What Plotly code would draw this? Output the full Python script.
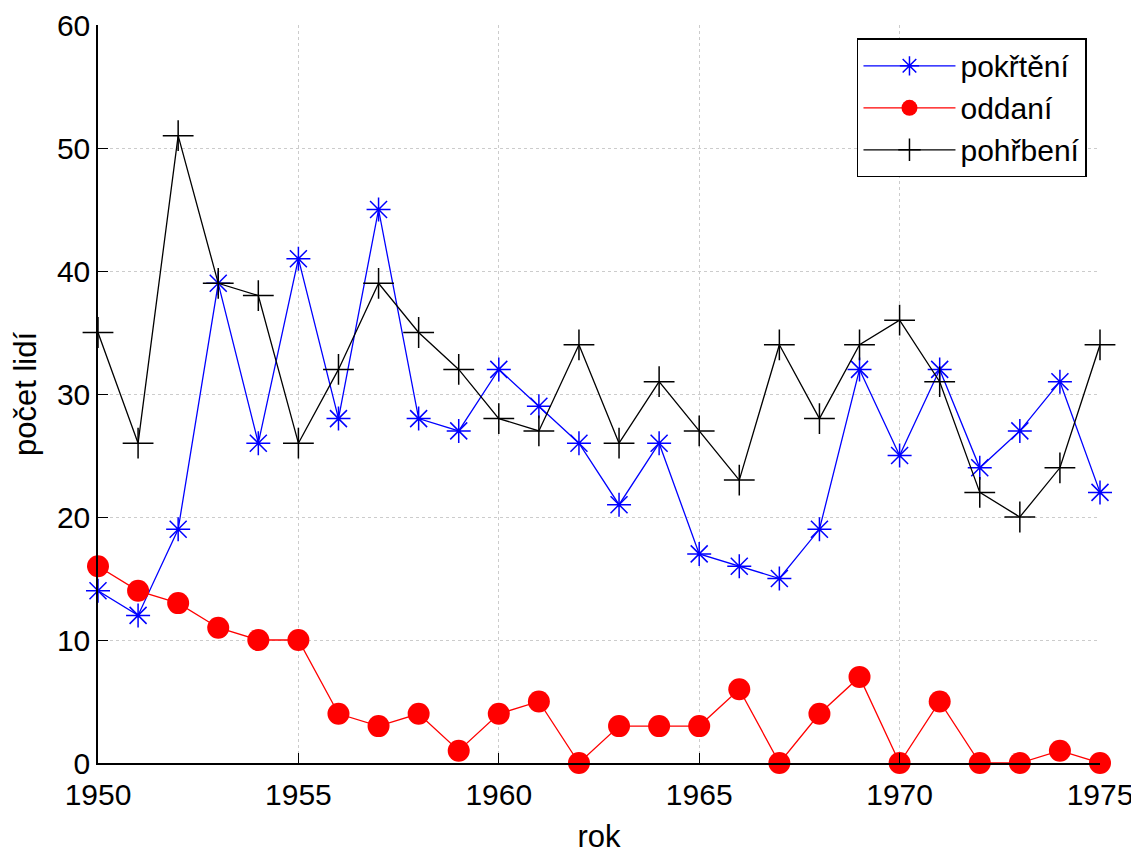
import plotly.graph_objects as go

years = list(range(1950, 1976))
pokrteni = [14, 12, 19, 39, 26, 41, 28, 45, 28, 27, 32, 29, 26, 21, 26, 17, 16, 15, 19, 32, 25, 32, 24, 27, 31, 22]
oddani = [16, 14, 13, 11, 10, 10, 4, 3, 4, 1, 4, 5, 0, 3, 3, 3, 6, 0, 4, 7, 0, 5, 0, 0, 1, 0]
pohrbeni = [35, 26, 51, 39, 38, 26, 32, 39, 35, 32, 28, 27, 34, 26, 31, 27, 23, 34, 28, 34, 36, 31, 22, 20, 24, 34]

x_ticks = [1950, 1955, 1960, 1965, 1970, 1975]
y_ticks = [0, 10, 20, 30, 40, 50, 60]

FONT = "Liberation Sans, Arial, Helvetica, sans-serif"

fig = go.Figure()
fig.add_trace(go.Scatter(
    x=years, y=pokrteni, name="pokřtění", mode="lines+markers",
    line=dict(color="#0000ff", width=1.3),
    marker=dict(symbol="asterisk-open", size=20, color="#0000ff",
                line=dict(color="#0000ff", width=1.5)),
    cliponaxis=False,
))
fig.add_trace(go.Scatter(
    x=years, y=oddani, name="oddaní", mode="lines+markers",
    line=dict(color="#ff0000", width=1.3),
    marker=dict(symbol="circle", size=22, color="#ff0000",
                line=dict(width=0)),
    cliponaxis=False,
))
fig.add_trace(go.Scatter(
    x=years, y=pohrbeni, name="pohřbení", mode="lines+markers",
    line=dict(color="#000000", width=1.3),
    marker=dict(symbol="cross-thin-open", size=22, color="#000000",
                line=dict(color="#000000", width=1.5)),
    cliponaxis=False,
))

axis_common = dict(
    showline=True, linecolor="black", linewidth=1.5,
    ticks="inside", ticklen=10, tickwidth=1.3, tickcolor="black",
    showgrid=True, gridcolor="#cccccc", gridwidth=1, griddash="dot",
    zeroline=False, mirror=False,
    tickfont=dict(family=FONT, size=30, color="black"),
    ticklabeloverflow="allow",
)

fig.update_layout(
    width=1131, height=848,
    margin=dict(l=90, r=39, t=17, b=93, autoexpand=False),
    paper_bgcolor="white", plot_bgcolor="white",
    font=dict(family=FONT, size=30, color="black"),
    xaxis=dict(range=[1950, 1975], tickvals=x_ticks,
               ticktext=[str(v) for v in x_ticks],
               title=dict(text="rok", font=dict(family=FONT, size=31), standoff=16),
               ticklabelstandoff=4, automargin=False,
               **axis_common),
    yaxis=dict(range=[0, 60], tickvals=y_ticks,
               ticktext=[str(v) for v in y_ticks],
               title=dict(text="počet lidí", font=dict(family=FONT, size=31), standoff=12),
               ticklabelstandoff=0, automargin=False,
               **axis_common),
    legend=dict(
        x=0.987, y=0.982, xanchor="right", yanchor="top",
        bgcolor="white", bordercolor="black", borderwidth=1.5,
        font=dict(family=FONT, size=30, color="black"),
        itemwidth=92, entrywidth=248, tracegroupgap=0,
    ),
    showlegend=True,
)

fig.write_html("out.html")
